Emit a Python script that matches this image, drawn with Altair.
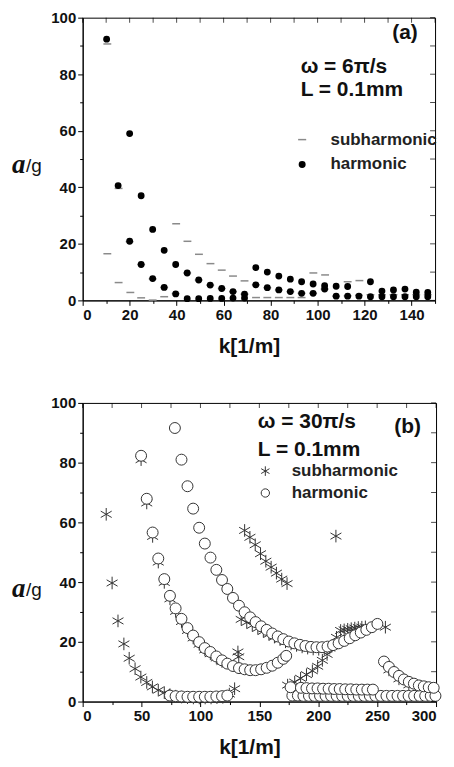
import altair as alt
import pandas as pd

# ---------------- panel (a): omega = 6pi/s ----------------
a_harm_k = [10.2, 20.0, 24.9, 29.8, 34.7, 39.6, 44.5, 49.4, 54.3, 59.2, 64.0, 68.9,
            15.1, 20.0, 24.9, 29.8, 34.7, 39.6, 44.5, 49.4, 54.3, 59.2, 64.0, 68.9,
            73.7, 78.6, 83.5, 88.4, 93.2, 98.1, 103.0, 107.9, 112.8, 122.5,
            73.7, 78.6, 83.5, 88.4, 93.2, 98.1, 103.0,
            107.9, 112.8, 117.6, 122.5, 127.4, 132.3, 137.2, 142.0, 146.9,
            127.4, 132.3, 137.2, 142.0, 146.9]
a_harm_v = [92.4, 59.0, 37.0, 25.1, 17.7, 12.7, 9.7, 7.2, 5.4, 4.2, 3.1, 2.2,
            40.6, 20.9, 12.7, 7.7, 4.6, 2.3, 0.6, 0.6, 0.7, 0.7, 0.8, 0.8,
            11.6, 10.0, 8.6, 7.5, 6.6, 5.8, 5.2, 5.0, 4.9, 6.6,
            5.5, 4.5, 3.7, 3.1, 2.5, 2.5, 4.0,
            1.5, 1.5, 1.5, 1.3, 1.3, 1.3, 1.3, 1.3, 1.3,
            3.3, 3.7, 4.0, 2.9, 2.8]
a_sub_k = [10.5, 10.5, 15.3, 15.3, 20.0, 20.3, 24.9, 24.9, 29.8, 29.8, 34.7, 34.7,
           39.8, 39.6, 44.6, 44.5, 49.5, 49.4, 54.4, 54.3, 59.2, 59.2, 64.0, 64.0,
           68.9, 68.9, 73.8, 78.6, 83.5, 88.4, 93.2, 73.7, 78.6, 83.5, 88.4, 93.2,
           98.2, 103.2, 98.1, 103.0, 107.9, 112.8, 112.8, 117.8, 117.6, 122.5,
           127.4, 132.3, 137.2, 142.0, 146.9]
a_sub_v = [90.7, 16.5, 39.6, 6.3, 20.8, 2.8, 12.7, 0.9, 7.6, 0.1, 4.6, 1.3,
           27.1, 2.4, 20.9, 9.7, 16.3, 7.2, 13.0, 5.4, 10.7, 4.2, 8.6, 3.1,
           6.9, 2.2, 1.0, 1.0, 1.0, 1.0, 1.0, 5.5, 4.5, 3.7, 3.1, 2.5,
           9.7, 9.0, 2.5, 4.0, 1.5, 6.6, 1.6, 7.0, 1.8, 2.0,
           2.0, 2.0, 2.0, 2.0, 2.0]

# ---------------- panel (b): omega = 30pi/s ----------------
b_harm_k = [78.3, 83.9, 89.0, 93.8, 98.9, 103.7, 108.5, 113.5, 118.3, 122.8, 127.6, 132.7,
            137.5, 142.2, 146.8, 151.5, 156.2, 160.9, 165.6, 170.3, 175.0, 179.7, 184.4,
            189.1, 193.8, 198.5, 203.2, 207.9, 212.6, 217.3, 222.0, 226.7, 231.4, 236.1,
            240.8, 245.5, 250.2,
            49.6, 54.4, 59.4, 64.2, 69.3, 74.1, 78.9, 83.9, 89.0, 93.8, 98.9, 103.7, 108.4,
            113.5, 118.3, 122.8, 127.6, 132.7, 137.5, 142.2, 146.8, 151.5, 156.2, 160.9,
            165.6, 170.3, 172.8,
            74.1, 78.9, 83.9, 89.0, 93.8, 98.9, 103.7, 108.4, 113.5, 118.3, 122.8,
            178.0, 182.7, 187.4, 192.1, 196.8, 201.5, 206.2, 210.9, 215.6, 220.3, 225.0,
            229.7, 234.4, 239.1, 243.8, 248.5, 253.2, 257.9, 262.6, 267.3, 272.0, 276.7,
            281.4, 286.1, 290.8, 295.5, 299.5,
            176.5, 185.3, 190.0, 194.7, 199.4, 204.1, 208.8, 213.5, 218.2, 222.9, 227.6,
            232.3, 237.0, 241.7, 246.4,
            255.8, 260.0, 264.3, 268.5, 272.7, 276.9, 281.2, 285.4, 289.6, 293.8, 298.0]
b_harm_v = [91.6, 81.0, 72.1, 64.6, 58.2, 52.9, 48.2, 44.1, 40.7, 37.7, 34.7, 32.1,
            29.9, 28.2, 26.6, 25.2, 24.0, 22.8, 21.8, 20.9, 20.1, 19.5, 19.0,
            18.6, 18.3, 18.2, 18.2, 18.4, 18.9, 19.5, 20.3, 21.2, 22.2, 23.1,
            24.0, 24.9, 26.0,
            82.3, 67.9, 56.6, 47.9, 41.0, 35.4, 31.2, 27.7, 24.6, 22.1, 19.9, 17.9, 16.6,
            15.1, 13.8, 12.7, 11.9, 11.2, 10.8, 10.5, 10.5, 10.8, 11.3, 12.0,
            13.0, 14.3, 15.3,
            2.0, 1.8, 1.7, 1.6, 1.6, 1.6, 1.6, 1.6, 1.7, 1.8, 2.0,
            2.0, 2.0, 1.9, 1.9, 1.9, 1.9, 1.9, 1.9, 1.9, 1.9, 1.9,
            1.9, 1.9, 1.9, 1.9, 1.9, 1.9, 1.9, 1.9, 1.9, 1.9, 1.9,
            1.9, 1.9, 1.9, 1.9, 1.9,
            4.8, 4.6, 4.5, 4.4, 4.4, 4.3, 4.3, 4.2, 4.2, 4.1, 4.1,
            4.0, 4.0, 4.0, 4.0,
            13.4, 11.6, 9.9, 8.6, 7.4, 6.6, 6.0, 5.4, 5.1, 4.8, 4.6]
b_sub_k = [20.0, 25.0, 30.0, 35.0, 39.5, 44.5, 49.4, 54.4, 59.2, 64.2, 69.3, 74.1, 79.0,
           84.0, 89.0, 94.0, 99.0, 104.0, 109.0, 114.0, 119.0, 124.5, 129.0,
           49.6, 54.4, 59.4, 64.2, 69.3, 74.1, 78.9, 83.9, 89.0, 93.8, 98.9, 103.7, 108.4,
           113.5, 118.3,
           134.6, 139.3, 144.0, 148.7, 153.4, 158.1, 162.8, 167.5, 172.2, 176.9, 181.6,
           186.3, 191.0, 195.7, 200.4, 205.1, 209.8,
           137.5, 142.0, 146.5, 151.0, 155.5, 160.0, 164.5, 169.0, 173.5,
           215.0, 131.8, 132.5,
           174.0, 180.0, 185.0, 190.0, 195.0, 199.5, 203.5, 207.5, 211.5, 215.5,
           219.0, 222.0, 225.0, 228.0, 231.0, 234.0, 237.0, 240.0, 257.0,
           260.0, 268.5, 276.9, 285.4, 293.8]
b_sub_v = [62.7, 39.7, 27.0, 19.3, 14.5, 11.0, 8.2, 6.4, 4.9, 3.8, 3.0, 2.3, 1.8,
           1.5, 1.3, 1.2, 1.2, 1.2, 1.2, 1.3, 1.4, 2.5, 4.3,
           81.0, 66.5, 55.3, 46.7, 39.9, 34.4, 30.2, 26.8, 23.8, 21.3, 19.2, 17.3, 16.0,
           14.6, 13.4,
           27.5, 26.5, 25.5, 24.5, 23.5, 22.5, 21.6, 20.8, 20.0, 19.3, 18.8,
           18.3, 17.9, 17.6, 17.5, 17.6, 17.9,
           57.3, 55.0, 52.5, 49.5, 47.0, 45.0, 43.0, 41.0, 39.5,
           55.4, 16.6, 15.0,
           5.5, 6.5, 7.8, 9.0, 10.3, 11.8, 13.8, 15.8, 18.5, 21.5,
           23.8, 24.0, 24.2, 24.4, 24.6, 24.8, 24.9, 25.0, 24.9,
           10.6, 7.6, 5.6, 4.4, 3.8]

# tick values
a_x_ticks = list(range(0, 151, 10))
b_x_ticks = list(range(0, 301, 25))
y_ticks = list(range(0, 101, 10))

SERIES = ["subharmonic", "harmonic"]
FONT = "Liberation Sans"

DASH = "M-1.25,0L1.25,0"
DOT = "M0.85,0A0.85,0.85,0,1,1,-0.85,0A0.85,0.85,0,1,1,0.85,0Z"
CIRC = "M1,0A1,1,0,1,1,-1,0A1,1,0,1,1,1,0Z"
STAR = "M0,-1.15L0,1.15M-1,-0.58L1,0.58M-1,0.58L1,-0.58"


def panel(k_sub, v_sub, k_harm, v_harm, xmax, xticks, xlab, w, h,
          shapes, strokes, fills, size, sw, leg_x, leg_y, leg_row, leg_off, leg_sym,
          texts, ytitle_y):
    df = pd.DataFrame({
        "k": k_sub + k_harm,
        "v": v_sub + v_harm,
        "series": [SERIES[0]] * len(k_sub) + [SERIES[1]] * len(k_harm),
    })
    df["ord"] = range(len(df))
    xs = alt.Scale(domain=[0, xmax], nice=False, zero=False)
    ys = alt.Scale(domain=[0, 100], nice=False, zero=False)
    leg = alt.Legend(orient="none", legendX=leg_x, legendY=leg_y, title=None,
                     labelFont=FONT, labelFontSize=17, labelFontWeight="bold",
                     labelColor="#222", rowPadding=leg_row, labelOffset=leg_off,
                     padding=0, symbolSize=leg_sym, symbolStrokeWidth=sw)
    xaxis = alt.Axis(values=xticks,
                     labelExpr=f"datum.value % {xlab} === 0 ? datum.label : ''",
                     tickSize={"condition": {"test": f"datum.value % {xlab} === 0", "value": 5}, "value": 3},
                     title="k[1/m]", titleFont=FONT, titleFontSize=21, titleFontWeight="bold",
                     titleColor="#111", titlePadding=13, titleX=w / 2 - 10,
                     labelOverlap=False, grid=False)
    yaxis = alt.Axis(values=y_ticks,
                     labelExpr="datum.value % 20 === 0 ? datum.label : ''",
                     tickSize={"condition": {"test": "datum.value % 20 === 0", "value": 5}, "value": 3},
                     title=None, labelOverlap=False, grid=False)
    pts = alt.Chart(df).mark_point(strokeWidth=sw, opacity=1, size=size).encode(
        x=alt.X("k:Q", scale=xs, axis=xaxis),
        y=alt.Y("v:Q", scale=ys, axis=yaxis),
        shape=alt.Shape("series:N", scale=alt.Scale(domain=SERIES, range=shapes), legend=leg),
        stroke=alt.Stroke("series:N", scale=alt.Scale(domain=SERIES, range=strokes), legend=leg),
        fill=alt.Fill("series:N", scale=alt.Scale(domain=SERIES, range=fills), legend=leg),
        order=alt.Order("ord:Q"),
    )
    # inward mirror ticks on the top and right frame
    top_ticks = alt.Chart(pd.DataFrame({"t": xticks})).mark_tick(
        orient="vertical", size=5, thickness=1, color="#000000").encode(
        x=alt.X("t:Q", scale=xs, axis=None), y=alt.value(2.5))
    right_ticks = alt.Chart(pd.DataFrame({"t": y_ticks})).mark_tick(
        orient="horizontal", size=5, thickness=1, color="#000000").encode(
        y=alt.Y("t:Q", scale=ys, axis=None), x=alt.value(w - 2.5))
    layers = [pts, top_ticks, right_ticks]
    for (txt, x, y, fs) in texts:
        layers.append(alt.Chart().mark_text(text=txt, align="left", baseline="middle",
                                            font=FONT, fontSize=fs, fontWeight="bold",
                                            color="#111")
                      .encode(x=alt.value(x), y=alt.value(y)))
    layers.append(alt.Chart().mark_text(text="a", align="left", baseline="middle",
                                        font="Liberation Serif", fontSize=27, fontWeight="bold",
                                        fontStyle="italic", color="#111")
                  .encode(x=alt.value(-71), y=alt.value(ytitle_y)))
    layers.append(alt.Chart().mark_text(text="/g", align="left", baseline="middle",
                                        font=FONT, fontSize=19, color="#111")
                  .encode(x=alt.value(-57), y=alt.value(ytitle_y + 1)))
    return alt.layer(*layers).resolve_axis(x="independent", y="independent").properties(width=w, height=h)


pa = panel(a_sub_k, a_sub_v, a_harm_k, a_harm_v, 150, a_x_ticks, 20, 354, 284,
           [DASH, DOT], ["#8a8a8a", "#000000"], ["transparent", "#000000"], 40, 1.5,
           212, 114, 7, 20, 42,
           [("(a)", 311, 15, 21),
            ("\u03c9 = 6\u03c0/s", 219, 50, 21),
            ("L = 0.1mm", 219, 73, 21)],
           148)

pb = panel(b_sub_k, b_sub_v, b_harm_k, b_harm_v, 300, b_x_ticks, 50, 355, 300,
           [STAR, CIRC], ["#333333", "#333333"], ["transparent", "#ffffff"], 121, 1,
           175, 60, 4, 18, 70,
           [("(b)", 313, 24, 21),
            ("\u03c9 = 30\u03c0/s", 176, 19, 21),
            ("L = 0.1mm", 176, 47, 21)],
           187)

chart = alt.vconcat(pa, pb, spacing=38).resolve_scale(
    shape="independent", stroke="independent", fill="independent"
).resolve_legend(
    shape="independent", stroke="independent", fill="independent"
).properties(
    padding={"left": 3, "top": 0, "right": 2, "bottom": 0}
).configure_view(stroke="#000000", strokeWidth=1).configure_axis(
    domainColor="#000000", tickColor="#000000", tickWidth=1,
    labelFont=FONT, labelFontSize=15, labelFontWeight="bold", labelColor="#111",
    labelPadding=2,
)

chart.save("out.html", embed_options={"renderer": "svg", "actions": False})
